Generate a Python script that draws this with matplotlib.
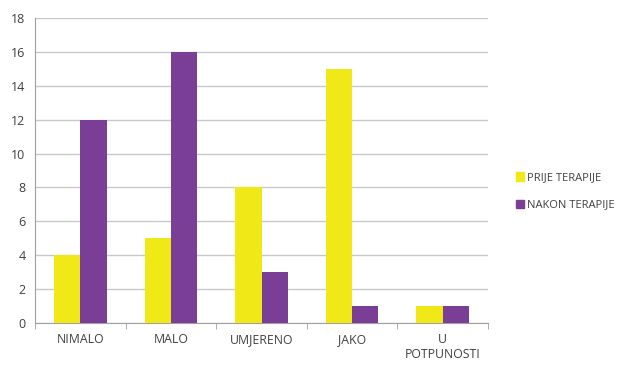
import numpy as np
import matplotlib
matplotlib.use('Agg')
import matplotlib.pyplot as plt
from matplotlib.patches import Patch

categories = ['NIMALO', 'MALO', 'UMJERENO', 'JAKO', 'U\nPOTPUNOSTI']
prije = [4, 5, 8, 15, 1]
nakon = [12, 16, 3, 1, 1]
series_names = ['PRIJE TERAPIJE', 'NAKON TERAPIJE']
yticks = list(range(0, 19, 2))

yellow = '#F0E817'
purple = '#7A3E97'
text_col = '#404040'

plt.rcParams['font.family'] = ['Open Sans', 'DejaVu Sans']

fig = plt.figure(figsize=(6.28, 3.65), dpi=100)
ax = fig.add_axes([0.056, 0.115, 0.721, 0.836])

x = np.arange(len(categories))
w = 0.29
ax.bar(x - w / 2, prije, w, color=yellow, zorder=3)
ax.bar(x + w / 2, nakon, w, color=purple, zorder=3)

ax.set_xlim(-0.5, len(categories) - 0.5)
ax.set_ylim(0, 18)
ax.set_yticks(yticks)
ax.yaxis.grid(True, color='#c8c8c8', linewidth=1.0, zorder=0)
ax.tick_params(axis='y', length=0, labelsize=9, colors=text_col, pad=7)

ax.set_xticks(x)
ax.set_xticklabels(categories, fontsize=8.8, color=text_col, linespacing=1.25)
ax.tick_params(axis='x', length=0, pad=7)
ax.set_xticks(np.arange(-0.5, len(categories)), minor=True)
ax.tick_params(axis='x', which='minor', length=4, color='#a0a0a0', direction='out')

for s in ['top', 'right']:
    ax.spines[s].set_visible(False)
ax.spines['left'].set_color('#a0a0a0')
ax.spines['bottom'].set_color('#a0a0a0')

handles = [Patch(color=yellow), Patch(color=purple)]
fig.legend(handles, series_names, loc='upper left', bbox_to_anchor=(0.805, 0.555),
           frameon=False, fontsize=8, handlelength=0.75, handleheight=0.75,
           handletextpad=0.3, labelspacing=1.45, labelcolor=text_col)

fig.savefig('out.png', dpi=100)
